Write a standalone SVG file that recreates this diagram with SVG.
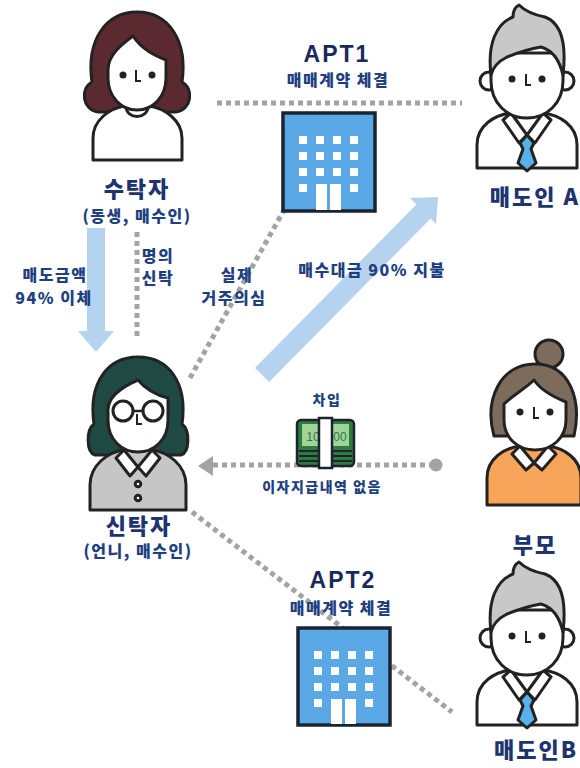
<svg xmlns="http://www.w3.org/2000/svg" xmlns:xlink="http://www.w3.org/1999/xlink" width="580" height="768" viewBox="0 0 580 768">
  <style>
    text { font-family: "Noto Sans CJK KR", "Noto Sans", sans-serif; font-weight: 900; text-anchor: middle; fill: #213f80; }
    .name { font-size: 22px; letter-spacing: 2px; fill: #1d3470; }
    .sub { font-size: 16px; letter-spacing: 1.5px; }
    .lbl { font-size: 16px; letter-spacing: 1.5px; }
    .sm { font-size: 14px; letter-spacing: 1.5px; }
    .apt { font-family: "Liberation Sans", Arial, sans-serif; font-size: 23px; font-weight: 700; letter-spacing: 2px; fill: #182a5c; }
    .ln { stroke: #222; stroke-width: 3; stroke-linejoin: round; stroke-linecap: round; }
    .dot { fill: none; stroke: #a3a3a3; stroke-width: 5; stroke-dasharray: 5 4; }
    .bld { fill: #5aa9e6; stroke: #1b2330; stroke-width: 3.5; }
    .win { fill: #ffffff; }
  </style>
  <defs>
    <!-- male figure, origin at face centre -->
    <g id="male">
      <path class="ln" fill="#fff" d="M-50,95 L-50,72 C-50,52 -32,42 -16,40 L16,40 C32,42 50,52 50,72 L50,95 Z"/>
      <path class="ln" fill="#fff" d="M-16,40 L0,62 L16,40 L24,47 L8,70 L0,62 L-8,70 L-24,47 Z"/>
      <path class="ln" fill="#5ab0e8" d="M0,62 L7,70 L4,76 L9,90 L0,98 L-9,90 L-4,76 L-7,70 Z"/>
      <circle class="ln" fill="#fff" cx="-38" cy="8" r="9"/>
      <circle class="ln" fill="#fff" cx="38" cy="8" r="9"/>
      <path class="ln" fill="#fff" d="M-36,-20 L-36,8 C-36,30 -20,45 0,45 C20,45 36,30 36,8 L36,-20 Z"/>
      <path class="ln" fill="#c8c8c8" d="M-36,2 C-40,-30 -30,-50 -14,-56 C-14,-62 -12,-66 -8,-68 C-2,-62 8,-58 18,-56 C34,-50 40,-32 36,2 C32,-14 26,-22 14,-26 C2,-24 -10,-20 -20,-16 C-28,-12 -34,-6 -36,2 Z"/>
      <circle fill="#222" cx="-15" cy="6" r="3.5"/>
      <circle fill="#222" cx="15" cy="6" r="3.5"/>
      <path fill="none" stroke="#222" stroke-width="2" d="M-1,1 L-1,12 L4,12"/>
    </g>
    <!-- stack of notes -->
    <g id="cash">
      <rect x="0" y="0" width="57" height="46" rx="4" fill="#2f7a3c" stroke="#1b2330" stroke-width="2.5"/>
      <rect x="5" y="4" width="47" height="22" fill="#9fd39a"/>
      <text x="16" y="21" style="font-family:'Liberation Sans',Arial,sans-serif;font-size:12px;font-weight:400;letter-spacing:0;fill:#2f7a3c">10</text>
      <text x="43" y="21" style="font-family:'Liberation Sans',Arial,sans-serif;font-size:12px;font-weight:400;letter-spacing:0;fill:#2f7a3c">00</text>
      <path d="M2,31 L55,31 M2,36 L55,36 M2,41 L55,41" stroke="#1b2330" stroke-width="1.8"/>
      <rect x="22" y="-2" width="13" height="50" fill="#fff" stroke="#1b2330" stroke-width="2.5"/>
    </g>
  </defs>

  <rect width="580" height="768" fill="#fff"/>

  <!-- connectors -->
  <g id="connectors">
    <path class="dot" d="M217,103 L462,103"/>
    <path class="dot" d="M137,232 L137,336"/>
    <path class="dot" d="M190,378 L284,210"/>
    <path class="dot" d="M213,465 L432,465"/>
    <polygon points="198,466 213,456 213,476" fill="#a3a3a3"/>
    <circle cx="436" cy="465" r="6.5" fill="#a3a3a3"/>
    <path class="dot" d="M192,512 L452,712"/>
    <!-- transfer arrows -->
    <rect x="87" y="228" width="18" height="104" fill="#b5d3ee"/>
    <polygon points="78,331 114,331 96,352" fill="#b5d3ee"/>
    <path d="M262,375 L425,210" stroke="#b5d3ee" stroke-width="20" fill="none"/>
    <polygon points="410,198 438,197 436,224" fill="#b5d3ee"/>
  </g>

  <!-- trustee (younger sister) -->
  <g id="trustee">
    <path class="ln" fill="#5b2a30" d="M98,112 C82,110 80,88 92,82 C86,40 106,12 137,12 C168,12 188,40 182,82 C194,88 192,110 176,112 Z"/>
    <path class="ln" fill="#fff" d="M93,160 L93,138 C93,120 110,108 125,106 L149,106 C164,108 182,120 182,138 L182,160 Z"/>
    <path class="ln" fill="#fff" d="M126,106 C126,120 148,120 148,106 Z"/>
    <path class="ln" fill="#fff" d="M108,70 C108,55 122,44 133,36 C142,50 156,56 166,60 L166,78 C166,97 153,110 137,110 C121,110 108,97 108,78 Z"/>
    <circle fill="#222" cx="123" cy="75" r="3.5"/>
    <circle fill="#222" cx="152" cy="75" r="3.5"/>
    <path fill="none" stroke="#222" stroke-width="2" d="M136,70 L136,81 L141,81"/>
    <text class="name" x="137" y="197">수탁자</text>
    <text class="sub" x="137" y="222">(동생, 매수인)</text>
  </g>

  <!-- truster (elder sister) -->
  <g id="truster">
    <path class="ln" fill="#1f4a44" d="M95,455 C86,452 86,430 94,424 C88,382 108,357 138,357 C168,357 188,382 182,424 C190,430 190,452 181,455 Z"/>
    <path class="ln" fill="#c6c6c6" d="M90,510 L90,485 C90,465 108,452 124,450 L152,450 C168,452 186,465 186,485 L186,510 Z"/>
    <path class="ln" fill="#fff" d="M124,450 L138,467 L152,450 L160,458 L146,476 L138,467 L130,476 L116,458 Z"/>
    <circle class="ln" fill="#fff" cx="138" cy="484" r="2.8" stroke-width="2"/>
    <circle class="ln" fill="#fff" cx="138" cy="498" r="2.8" stroke-width="2"/>
    <path class="ln" fill="#fff" d="M108,410 C108,395 124,386 138,380 C148,392 160,396 168,398 L168,420 C168,440 154,452 138,452 C122,452 108,440 108,420 Z"/>
    <circle class="ln" fill="#fff" cx="123" cy="411" r="10" stroke-width="2.5"/>
    <circle class="ln" fill="#fff" cx="153" cy="411" r="10" stroke-width="2.5"/>
    <path fill="none" stroke="#222" stroke-width="2.5" d="M133,411 L143,411"/>
    <path fill="none" stroke="#222" stroke-width="2" d="M137,414 L137,424 L142,424"/>
    <text class="name" x="139" y="534">신탁자</text>
    <text class="sub" x="138" y="557">(언니, 매수인)</text>
  </g>

  <!-- seller A -->
  <g id="sellerA">
    <use xlink:href="#male" href="#male" transform="translate(527,73)"/>
    <text class="name" x="535" y="205">매도인 A</text>
  </g>

  <!-- parents -->
  <g id="parents">
    <circle class="ln" fill="#7d6b5c" cx="549" cy="354" r="14"/>
    <path class="ln" fill="#7d6b5c" d="M494,436 C484,400 500,364 535,364 C570,364 582,400 574,436 Z"/>
    <path class="ln" fill="#f7a55a" d="M487,505 L487,478 C487,458 505,448 520,446 L548,446 C563,448 581,458 581,478 L581,505 Z"/>
    <path class="ln" fill="#fff" d="M520,446 L534,463 L548,446 L556,454 L542,470 L534,463 L526,470 L512,454 Z"/>
    <path class="ln" fill="#fff" d="M504,404 C512,396 526,388 534,380 C542,392 556,398 566,402 L566,420 C566,438 552,450 535,450 C518,450 504,438 504,420 Z"/>
    <circle fill="#222" cx="520" cy="412" r="3.5"/>
    <circle fill="#222" cx="550" cy="412" r="3.5"/>
    <path fill="none" stroke="#222" stroke-width="2" d="M534,407 L534,418 L539,418"/>
    <text class="name" x="535" y="553">부모</text>
  </g>

  <!-- seller B -->
  <g id="sellerB">
    <use xlink:href="#male" href="#male" transform="translate(527,630)"/>
    <text class="name" x="536" y="758">매도인B</text>
  </g>

  <!-- apartment 1 -->
  <g id="apt1">
    <text class="apt" x="337" y="62">APT1</text>
    <text class="sub" x="338" y="86">매매계약 체결</text>
    <rect class="bld" x="283" y="113" width="92" height="98"/>
    <g class="win">
      <rect x="299" y="136" width="8" height="8"/><rect x="316" y="136" width="8" height="8"/><rect x="333" y="136" width="8" height="8"/><rect x="350" y="136" width="8" height="8"/>
      <rect x="299" y="152" width="8" height="8"/><rect x="316" y="152" width="8" height="8"/><rect x="333" y="152" width="8" height="8"/><rect x="350" y="152" width="8" height="8"/>
      <rect x="299" y="168" width="8" height="8"/><rect x="316" y="168" width="8" height="8"/><rect x="333" y="168" width="8" height="8"/><rect x="350" y="168" width="8" height="8"/>
      <rect x="299" y="184" width="8" height="8"/><rect x="350" y="184" width="8" height="8"/>
      <rect x="316" y="184" width="25" height="26"/>
    </g>
    <path d="M328.5,184 L328.5,210" stroke="#5aa9e6" stroke-width="3"/>
  </g>

  <!-- apartment 2 -->
  <g id="apt2">
    <text class="apt" x="343" y="588">APT2</text>
    <text class="sub" x="341" y="614">매매계약 체결</text>
    <rect class="bld" x="298" y="628" width="92" height="97"/>
    <g class="win">
      <rect x="314" y="651" width="8" height="8"/><rect x="331" y="651" width="8" height="8"/><rect x="348" y="651" width="8" height="8"/><rect x="365" y="651" width="8" height="8"/>
      <rect x="314" y="667" width="8" height="8"/><rect x="331" y="667" width="8" height="8"/><rect x="348" y="667" width="8" height="8"/><rect x="365" y="667" width="8" height="8"/>
      <rect x="314" y="683" width="8" height="8"/><rect x="331" y="683" width="8" height="8"/><rect x="348" y="683" width="8" height="8"/><rect x="365" y="683" width="8" height="8"/>
      <rect x="314" y="699" width="8" height="8"/><rect x="365" y="699" width="8" height="8"/>
      <rect x="331" y="699" width="25" height="25"/>
    </g>
    <path d="M343.5,699 L343.5,724" stroke="#5aa9e6" stroke-width="3"/>
  </g>

  <!-- loan -->
  <g id="loan">
    <text class="sm" x="327" y="405">차입</text>
    <use xlink:href="#cash" href="#cash" transform="translate(297,420)"/>
    <text class="sm" x="322" y="492">이자지급내역 없음</text>
  </g>

  <!-- connector labels -->
  <g id="labels">
    <text class="lbl" x="55" y="281">매도금액</text>
    <text class="lbl" x="54" y="304">94% 이체</text>
    <text class="sub" x="158" y="262">명의</text>
    <text class="sub" x="158" y="284">신탁</text>
    <text class="lbl" x="237" y="281">실제</text>
    <text class="lbl" x="234" y="304">거주의심</text>
    <text class="lbl" x="372" y="276">매수대금 90% 지불</text>
  </g>
</svg>
